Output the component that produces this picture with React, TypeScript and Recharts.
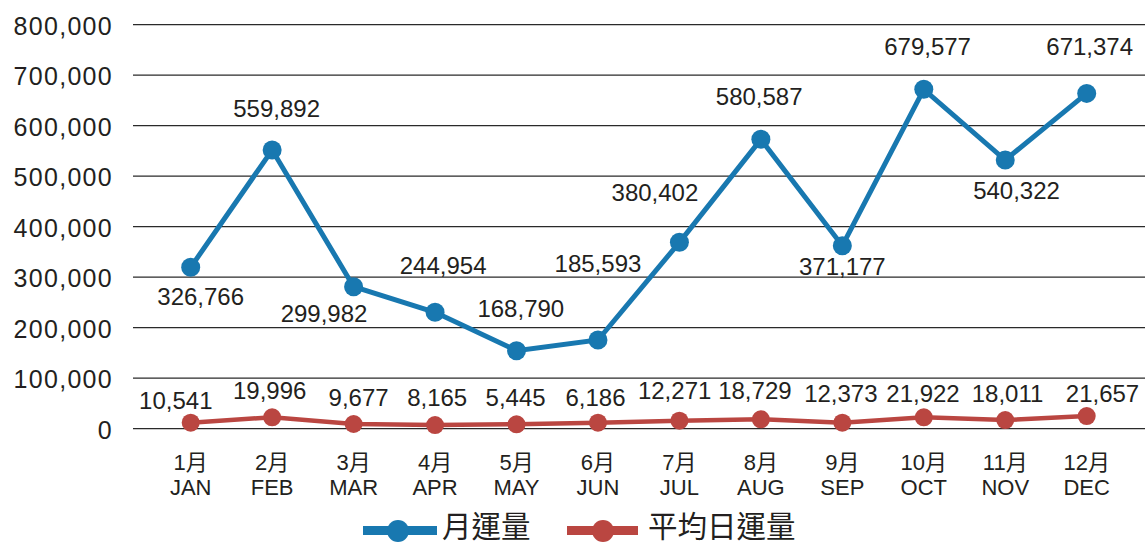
import React from 'react';
import { LineChart, Line, XAxis, YAxis, CartesianGrid, LabelList } from 'recharts';

const MONTHS_ZH = ['1月', '2月', '3月', '4月', '5月', '6月', '7月', '8月', '9月', '10月', '11月', '12月'];
const MONTHS_EN = ['JAN', 'FEB', 'MAR', 'APR', 'MAY', 'JUN', 'JUL', 'AUG', 'SEP', 'OCT', 'NOV', 'DEC'];

// plotted positions
const MONTHLY = [319600, 551900, 281200, 230500, 154500, 175600, 369100, 573000, 362400, 672000, 532000, 664000];
const DAILY = [11900, 22600, 9300, 7300, 8700, 11900, 15800, 18600, 11900, 22600, 17200, 25100];

// printed value labels
const MONTHLY_LABELS = [326766, 559892, 299982, 244954, 168790, 185593, 380402, 580587, 371177, 679577, 540322, 671374];
const DAILY_LABELS = [10541, 19996, 9677, 8165, 5445, 6186, 12271, 18729, 12373, 21922, 18011, 21657];

const Y_TICKS = [0, 100000, 200000, 300000, 400000, 500000, 600000, 700000, 800000];

const SERIES_NAMES = ['月運量', '平均日運量'];

// label placement offsets (dx, dy) relative to each point
const MONTHLY_LABEL_OFFSET = [
  [10, 29.4], [4.5, -41.2], [-29.6, 26.6], [8.1, -47.3], [4.3, -42], [0, -76.7],
  [-24.5, -50.3], [-1.7, -43.1], [0, 20.8], [3.8, -43], [11.3, 30], [3, -47],
];
const DAILY_LABEL_OFFSET = [
  [-14.9, -22.2], [-2.5, -26.8], [5, -26.8], [2.1, -27.8], [-0.9, -27.1], [-2.5, -25.5],
  [-4.8, -30.2], [-6, -28.8], [-1.5, -29.4], [-0.8, -24], [2.3, -26.7], [15.8, -22.7],
];

const data = MONTHS_EN.map((m, i) => ({
  month: m,
  zh: MONTHS_ZH[i],
  monthly: MONTHLY[i],
  daily: DAILY[i],
}));

const BLUE = '#1878b0';
const RED = '#ba4641';
const TEXT = '#231f20';
const FONT = "'Liberation Sans', Arial, 'Noto Sans CJK TC', sans-serif";

const fmt = (v: number) => v.toLocaleString('en-US');

const YTick = (props: any) => {
  const { x, y, payload } = props;
  return (
    <text x={x} y={y + 1} dy="0.36em" textAnchor="end" fill={TEXT} fontSize={25} fontFamily={FONT} letterSpacing={1.3}>
      {fmt(payload.value)}
    </text>
  );
};

const XTick = (props: any) => {
  const { x, y, payload, index } = props;
  const i = typeof index === 'number' ? index : MONTHS_EN.indexOf(payload.value);
  return (
    <g>
      <text x={x} y={y + 41.3} textAnchor="middle" fill={TEXT} fontSize={22} fontFamily={FONT}>
        {MONTHS_ZH[i]}
      </text>
      <text x={x} y={y + 66.3} textAnchor="middle" fill={TEXT} fontSize={22} fontFamily={FONT}>
        {payload.value}
      </text>
    </g>
  );
};

const makeLabel = (labels: number[], offsets: number[][]) => (props: any) => {
  const { x, y, index } = props;
  if (typeof index !== 'number') return null;
  const [dx, dy] = offsets[index];
  return (
    <text x={x + dx} y={y + dy + 8.6} textAnchor="middle" fill={TEXT} fontSize={24} fontFamily={FONT}>
      {fmt(labels[index])}
    </text>
  );
};

const LegendOverlay = () => (
  <svg width={1145} height={543} style={{ position: 'absolute', left: 0, top: 0, pointerEvents: 'none' }}>
    <line x1={363} y1={530.5} x2={437} y2={530.5} stroke={BLUE} strokeWidth={9} />
    <circle cx={398} cy={531} r={11} fill={BLUE} />
    <text x={442} y={537} fill={TEXT} fontSize={29.5} fontFamily={FONT}>{SERIES_NAMES[0]}</text>
    <line x1={567} y1={530.5} x2={638} y2={530.5} stroke={RED} strokeWidth={9} />
    <circle cx={603} cy={531} r={11} fill={RED} />
    <text x={648} y={537} fill={TEXT} fontSize={29.5} fontFamily={FONT}>{SERIES_NAMES[1]}</text>
  </svg>
);

export default function App() {
  return (
    <div style={{ position: 'absolute', left: 0, top: 0, width: 1145, height: 543, overflow: 'hidden', background: '#fff' }}>
      <LineChart width={1145} height={543} data={data} margin={{ top: 24.7, right: 0, bottom: 0, left: 0 }}>
        <CartesianGrid vertical={false} stroke="#2a2a2a" strokeWidth={1.3} />
        <XAxis
          dataKey="month"
          type="category"
          axisLine={false}
          tickLine={false}
          tickSize={0}
          tickMargin={0}
          height={114.3}
          padding={{ left: 57.7, right: 58.3 }}
          interval={0}
          tick={<XTick />}
        />
        <YAxis
          type="number"
          domain={[0, 800000]}
          ticks={Y_TICKS}
          width={133}
          axisLine={false}
          tickLine={false}
          tickSize={0}
          tickMargin={20}
          interval={0}
          tick={<YTick />}
        />
        <Line
          dataKey="daily"
          name={SERIES_NAMES[1]}
          stroke={RED}
          strokeWidth={4.5}
          dot={{ r: 9, fill: RED, stroke: 'none' }}
          activeDot={false}
          isAnimationActive={false}
        >
          <LabelList dataKey="daily" content={makeLabel(DAILY_LABELS, DAILY_LABEL_OFFSET)} />
        </Line>
        <Line
          dataKey="monthly"
          name={SERIES_NAMES[0]}
          stroke={BLUE}
          strokeWidth={5}
          dot={{ r: 9.5, fill: BLUE, stroke: 'none' }}
          activeDot={false}
          isAnimationActive={false}
        >
          <LabelList dataKey="monthly" content={makeLabel(MONTHLY_LABELS, MONTHLY_LABEL_OFFSET)} />
        </Line>
      </LineChart>
      <LegendOverlay />
    </div>
  );
}
